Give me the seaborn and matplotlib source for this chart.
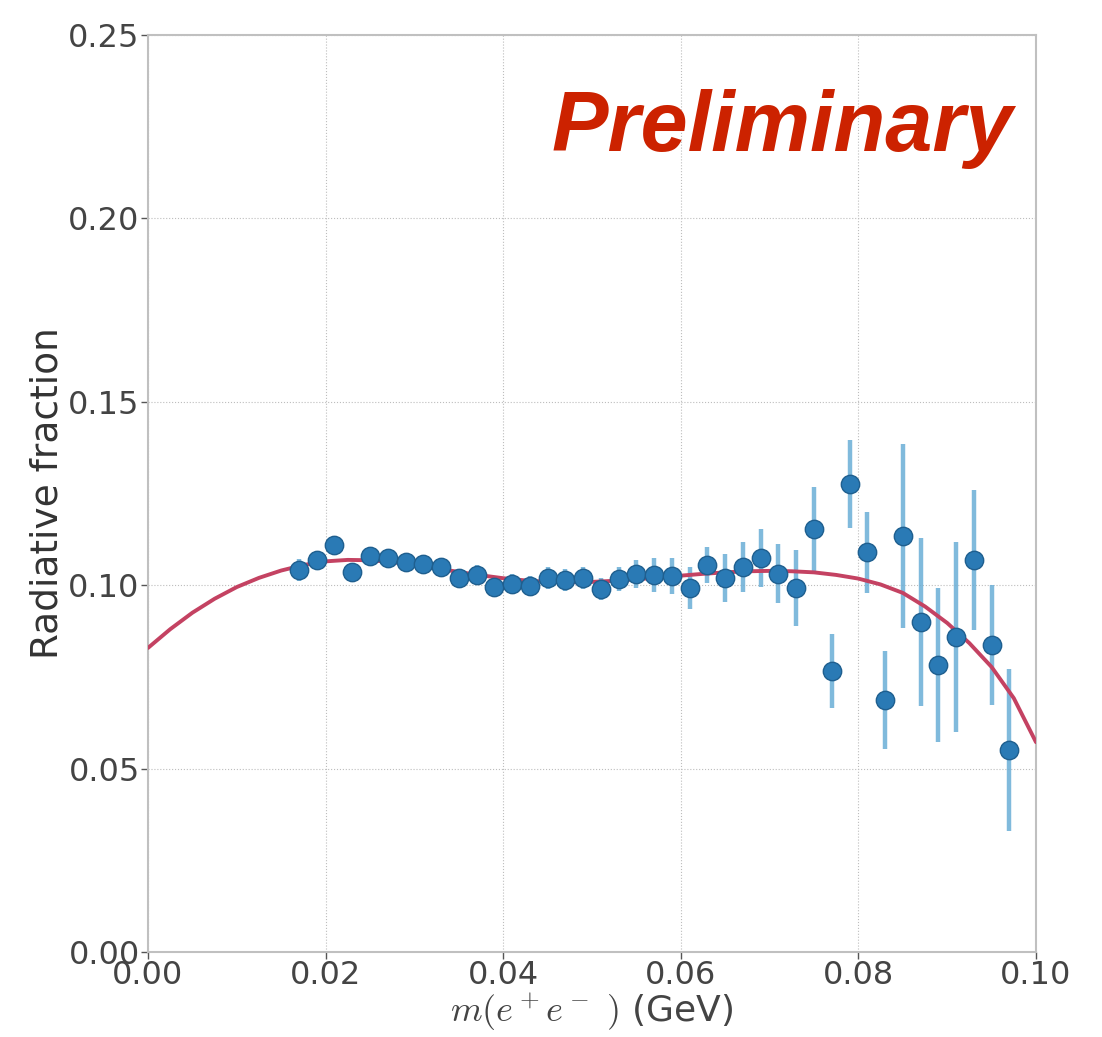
import numpy as np
import pandas as pd
import matplotlib
matplotlib.use('Agg')
import matplotlib.pyplot as plt
import seaborn as sns

# measured radiative fraction per mass bin
mass = [0.017, 0.019, 0.021, 0.023, 0.025, 0.027, 0.029, 0.031, 0.033, 0.035,
        0.037, 0.039, 0.041, 0.043, 0.045, 0.047, 0.049, 0.051, 0.053, 0.055,
        0.057, 0.059, 0.061, 0.063, 0.065, 0.067, 0.069, 0.071, 0.073, 0.075,
        0.077, 0.079, 0.081, 0.083, 0.085, 0.087, 0.089, 0.091, 0.093, 0.095,
        0.097]
frac = [0.1041, 0.1069, 0.1110, 0.1036, 0.1080, 0.1074, 0.1063, 0.1058, 0.1050, 0.1020,
        0.1028, 0.0995, 0.1003, 0.0998, 0.1020, 0.1014, 0.1020, 0.0990, 0.1017, 0.1031,
        0.1028, 0.1025, 0.0992, 0.1055, 0.1020, 0.1050, 0.1074, 0.1031, 0.0992, 0.1153,
        0.0766, 0.1276, 0.1090, 0.0687, 0.1134, 0.0900, 0.0782, 0.0859, 0.1069, 0.0837,
        0.0551]
frac_err = [0.0030, 0.0025, 0.0025, 0.0025, 0.0025, 0.0025, 0.0025, 0.0025, 0.0025, 0.0025,
            0.0028, 0.0028, 0.0028, 0.0028, 0.0030, 0.0030, 0.0030, 0.0030, 0.0033, 0.0038,
            0.0046, 0.0050, 0.0057, 0.0050, 0.0066, 0.0068, 0.0080, 0.0080, 0.0104, 0.0115,
            0.0102, 0.0120, 0.0110, 0.0134, 0.0250, 0.0230, 0.0210, 0.0260, 0.0190, 0.0163,
            0.0220]

# fitted curve
fit_x = [0.0000, 0.0025, 0.0050, 0.0075, 0.0100, 0.0125, 0.0150, 0.0175, 0.0200, 0.0225,
         0.0250, 0.0275, 0.0300, 0.0325, 0.0350, 0.0375, 0.0400, 0.0425, 0.0450, 0.0475,
         0.0500, 0.0525, 0.0550, 0.0575, 0.0600, 0.0625, 0.0650, 0.0675, 0.0700, 0.0725,
         0.0750, 0.0775, 0.0800, 0.0825, 0.0850, 0.0875, 0.0900, 0.0925, 0.0950, 0.0975,
         0.1000]
fit_y = [0.0829, 0.0880, 0.0925, 0.0963, 0.0995, 0.1020, 0.1040, 0.1055, 0.1065, 0.1069,
         0.1068, 0.1063, 0.1055, 0.1046, 0.1036, 0.1027, 0.1019, 0.1013, 0.1009, 0.1008,
         0.1009, 0.1012, 0.1016, 0.1021, 0.1026, 0.1031, 0.1035, 0.1038, 0.1039, 0.1038,
         0.1035, 0.1028, 0.1018, 0.1002, 0.0979, 0.0942, 0.0897, 0.0842, 0.0777, 0.0692,
         0.0572]

tick_x = [0.00, 0.02, 0.04, 0.06, 0.08, 0.10]
tick_y = [0.00, 0.05, 0.10, 0.15, 0.20, 0.25]

df = pd.DataFrame({'mass': mass, 'frac': frac, 'err': frac_err})
fit = pd.DataFrame({'x': fit_x, 'y': fit_y})

sns.set_style('whitegrid', {'grid.linestyle': ':', 'grid.color': '#bdbdbd',
                            'axes.edgecolor': '#c0c0c0'})
plt.rcParams['font.family'] = ['DejaVu Sans']
plt.rcParams['mathtext.fontset'] = 'cm'

fig = plt.figure(figsize=(11.02, 10.37), dpi=100)
ax = fig.add_axes([0.1343, 0.082, 0.8058, 0.8842])

ax.errorbar(df['mass'], df['frac'], yerr=df['err'], fmt='none',
            ecolor='#6aaed6', elinewidth=3.2, capsize=0, alpha=0.85, zorder=2)
sns.lineplot(data=fit, x='x', y='y', color='#c44262', linewidth=2.8, ax=ax, zorder=3)
sns.scatterplot(data=df, x='mass', y='frac', s=175, color='#2a7ab5',
                edgecolor='#1f5f8f', linewidth=1, ax=ax, zorder=4)

ax.set_xlim(0, 0.10)
ax.set_ylim(0, 0.25)
ax.set_xticks(tick_x)
ax.set_yticks(tick_y)
ax.set_xticklabels(['%.2f' % t for t in tick_x])
ax.set_yticklabels(['%.2f' % t for t in tick_y])
ax.tick_params(axis='both', labelsize=23, colors='#555555', labelcolor='#444444',
               length=5, width=1, left=True, bottom=True, pad=1)
ax.set_xlabel(r'$m(e^+e^-\ )$ (GeV)', fontsize=26, color='#444444', labelpad=0)
ax.set_ylabel('Radiative fraction', fontsize=27, color='#333333', labelpad=2)
for s in ax.spines.values():
    s.set_linewidth(1.5)

fig.text(0.919, 0.8544, 'Preliminary', fontsize=61, color='#cc2200',
         fontweight='bold', fontstyle='italic', family=['Liberation Sans', 'DejaVu Sans'],
         ha='right', va='baseline')

fig.savefig('out.png', dpi=100)
